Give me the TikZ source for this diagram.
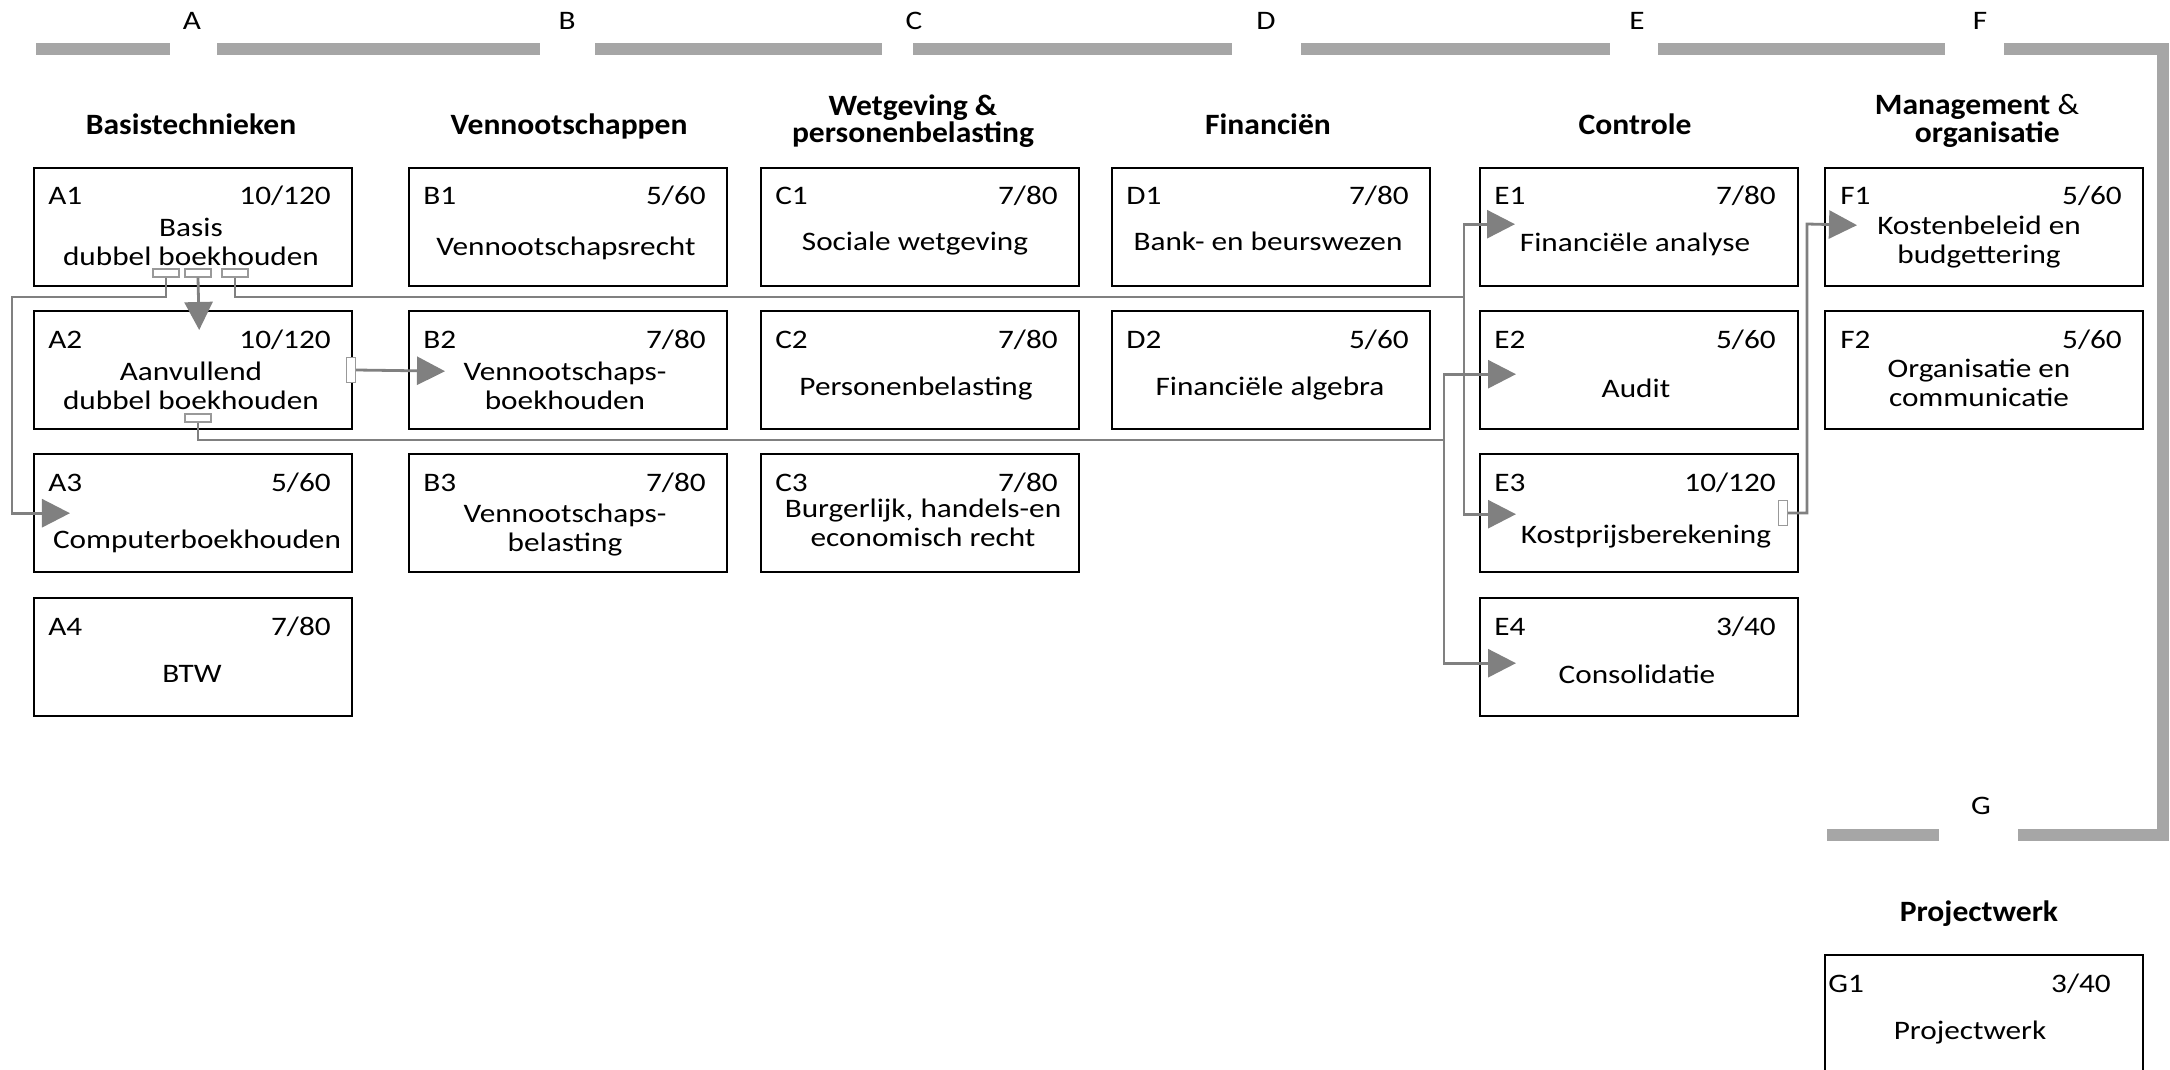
\documentclass[tikz,border=0pt]{standalone}
\usepackage{fontspec}
\setmainfont{Carlito}[FakeStretch=1.17]
\newfontfamily\headfont{Carlito}[FakeStretch=1.07]
\usetikzlibrary{arrows.meta}

\definecolor{bargray}{HTML}{A6A6A6}
\definecolor{linkgray}{HTML}{808080}

\tikzset{
 course/.style={draw, line width=0.6mm, anchor=north west, minimum width=79.5mm, minimum height=29.5mm, inner sep=0pt},
 code/.style={anchor=base west, inner sep=0pt, font=\fontsize{19}{19}\selectfont},
 credit/.style={anchor=base east, inner sep=0pt, font=\fontsize{19}{19}\selectfont},
 title/.style={align=center, inner sep=0pt, font={\fontsize{19}{20.6}\selectfont\lineskiplimit-20pt\relax}},
 head/.style={align=center, inner sep=0pt, font={\headfont\fontsize{21}{19.5}\selectfont\bfseries\lineskiplimit-20pt\relax}},
 letter/.style={anchor=base, inner sep=0pt, font=\fontsize{19}{19}\selectfont},
 bar/.style={bargray, line width=3mm},
 wire/.style={linkgray, line width=0.7mm},
 link/.style={wire, -{Triangle[length=7mm, width=7mm]}},
 port/.style={draw=linkgray!80, fill=white, line width=0.35mm, inner sep=0pt, minimum width=6.5mm, minimum height=2mm},
 vport/.style={port, minimum width=2.25mm, minimum height=6.25mm},
}

\begin{document}
\begin{tikzpicture}[x=0.25mm, y=-0.25mm]
 \useasboundingbox (0,0) rectangle (2170,1070);

 % column bar
 \draw [bar] (36,49) -- (170,49);
 \draw [bar] (217,49) -- (540,49);
 \draw [bar] (595,49) -- (882,49);
 \draw [bar] (913,49) -- (1232,49);
 \draw [bar] (1301,49) -- (1610,49);
 \draw [bar] (1658,49) -- (1945,49);
 \draw [bar] (2004,49) -- (2163,49) -- (2163,835) -- (2018,835);
 \draw [bar] (1939,835) -- (1827,835);

 \node [letter] (lA) at (192,30) {A};
 \node [letter] (lB) at (567,30) {B};
 \node [letter] (lC) at (914,30) {C};
 \node [letter] (lD) at (1266,30) {D};
 \node [letter] (lE) at (1637,30) {E};
 \node [letter] (lF) at (1980,30) {F};
 \node [letter] (lG) at (1981,814) {G};

 % headings
 \node [head, anchor=base] (hA) at (191,135) {Basistechnieken};
 \node [head, anchor=base] (hB) at (569,135) {Vennootschappen};
 \node [head] (hC) at (913,121) {Wetgeving \&\\personenbelasting};
 \node [head, anchor=base] (hD) at (1268,135) {Financiën};
 \node [head, anchor=base] (hE) at (1635,135) {Controle};
 \node [head] (hF) at (1977,121) {Management {\mdseries\&}\\\hspace*{0.7em}organisatie};
 \node [head, anchor=base] (hG) at (1979,921) {Projectwerk};

 % courses
 \node [course] (A1) at (33,167) {};
 \node [code] (A1code) at (48,205) {A1};
 \node [credit] (A1cr) at (331,205) {10/120};
 \node [title] (A1txt) at (191,242) {Basis\\dubbel boekhouden};

 \node [course] (A2) at (33,310) {};
 \node [code] (A2code) at (48,348) {A2};
 \node [credit] (A2cr) at (331,348) {10/120};
 \node [title] (A2txt) at (191,386) {Aanvullend\\dubbel boekhouden};

 \node [course] (A3) at (33,453) {};
 \node [code] (A3code) at (48,491) {A3};
 \node [credit] (A3cr) at (331,491) {5/60};
 \node [title] (A3txt) at (197,541) {Computerboekhouden};

 \node [course] (A4) at (33,597) {};
 \node [code] (A4code) at (48,635) {A4};
 \node [credit] (A4cr) at (331,635) {7/80};
 \node [title] (A4txt) at (192,674) {BTW};

 \node [course] (B1) at (408,167) {};
 \node [code] (B1code) at (423,205) {B1};
 \node [credit] (B1cr) at (706,205) {5/60};
 \node [title] (B1txt) at (566,248) {Vennootschapsrecht};

 \node [course] (B2) at (408,310) {};
 \node [code] (B2code) at (423,348) {B2};
 \node [credit] (B2cr) at (706,348) {7/80};
 \node [title] (B2txt) at (565,386) {Vennootschaps-\\boekhouden};

 \node [course] (B3) at (408,453) {};
 \node [code] (B3code) at (423,491) {B3};
 \node [credit] (B3cr) at (706,491) {7/80};
 \node [title] (B3txt) at (565,530) {Vennootschaps-\\belasting};

 \node [course] (C1) at (760,167) {};
 \node [code] (C1code) at (775,205) {C1};
 \node [credit] (C1cr) at (1058,205) {7/80};
 \node [title] (C1txt) at (915,244) {Sociale wetgeving};

 \node [course] (C2) at (760,310) {};
 \node [code] (C2code) at (775,348) {C2};
 \node [credit] (C2cr) at (1058,348) {7/80};
 \node [title] (C2txt) at (916,389) {Personenbelasting};

 \node [course] (C3) at (760,453) {};
 \node [code] (C3code) at (775,491) {C3};
 \node [credit] (C3cr) at (1058,491) {7/80};
 \node [title] (C3txt) at (923,523) {Burgerlijk, handels-en\\economisch recht};

 \node [course] (D1) at (1111,167) {};
 \node [code] (D1code) at (1126,205) {D1};
 \node [credit] (D1cr) at (1409,205) {7/80};
 \node [title] (D1txt) at (1268,241) {Bank- en beurswezen};

 \node [course] (D2) at (1111,310) {};
 \node [code] (D2code) at (1126,348) {D2};
 \node [credit] (D2cr) at (1409,348) {5/60};
 \node [title] (D2txt) at (1270,389) {Financiële algebra};

 \node [course] (E1) at (1479,167) {};
 \node [code] (E1code) at (1494,205) {E1};
 \node [credit] (E1cr) at (1776,205) {7/80};
 \node [title] (E1txt) at (1635,244) {Financiële analyse};

 \node [course] (E2) at (1479,310) {};
 \node [code] (E2code) at (1494,348) {E2};
 \node [credit] (E2cr) at (1776,348) {5/60};
 \node [title] (E2txt) at (1636,388) {Audit};

 \node [course] (E3) at (1479,453) {};
 \node [code] (E3code) at (1494,491) {E3};
 \node [credit] (E3cr) at (1776,491) {10/120};
 \node [title] (E3txt) at (1646,537) {Kostprijsberekening};

 \node [course] (E4) at (1479,597) {};
 \node [code] (E4code) at (1494,635) {E4};
 \node [credit] (E4cr) at (1776,635) {3/40};
 \node [title] (E4txt) at (1637,674) {Consolidatie};

 \node [course] (F1) at (1824,167) {};
 \node [code] (F1code) at (1840,205) {F1};
 \node [credit] (F1cr) at (2122,205) {5/60};
 \node [title] (F1txt) at (1979,242) {Kostenbeleid en\\budgettering};

 \node [course] (F2) at (1824,310) {};
 \node [code] (F2code) at (1840,348) {F2};
 \node [credit] (F2cr) at (2122,348) {5/60};
 \node [title] (F2txt) at (1979,383) {Organisatie en\\communicatie};

 \node [course] (G1) at (1824,954) {};
 \node [code] (G1code) at (1828,992) {G1};
 \node [credit] (G1cr) at (2111,992) {3/40};
 \node [title] (G1txt) at (1970,1033) {Projectwerk};

 % ports
 \node [port] (pA1a) at (166,273) {};
 \node [port] (pA1b) at (198,273) {};
 \node [port] (pA1c) at (235,273) {};
 \node [port] (pA2b) at (198,418) {};
 \node [vport] (pA2r) at (351,370) {};
 \node [vport] (pE3) at (1783,513) {};
 \coordinate (busE) at (1464,297);
 \coordinate (busF) at (1444,440);

 % links
 \draw [link] (pA1a.south) |- (12,297) |- ([shift={(37,0)}]A3.west);
 \draw [link] (pA1b.south) -- ([shift={(6,20)}]A2.north);
 \draw [link] (pA1c.south) |- (busE) |- ([shift={(36,-3)}]E1.west);
 \draw [link] (busE) |- ([shift={(37,1)}]E3.west);
 \draw [link] (pA2r.east) -- ([shift={(37,1)}]B2.west);
 \draw [link] (pA2b.south) |- (busF) |- ([shift={(37,4)}]E2.west);
 \draw [link] (busF) |- ([shift={(37,6)}]E4.west);
 \draw [link] (pE3.east) -| (1807,224) -- ([shift={(33,-2)}]F1.west);
\end{tikzpicture}
\end{document}
